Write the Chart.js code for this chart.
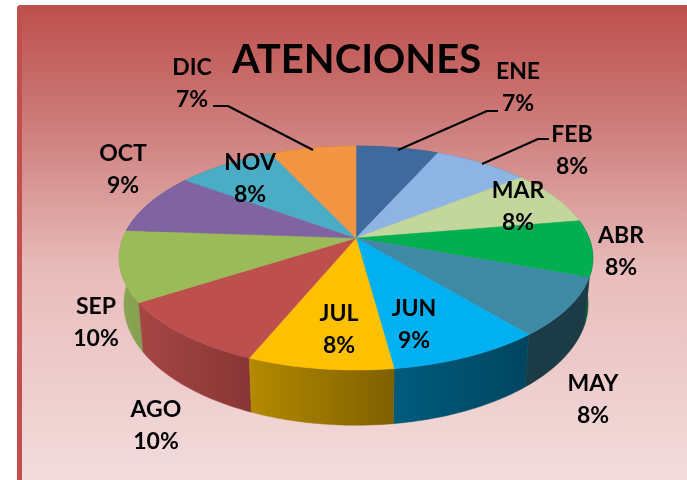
<!DOCTYPE html>
<html><head><meta charset="utf-8">
<style>html,body{margin:0;padding:0;background:#fff;overflow:hidden}canvas{display:block}</style>
<script src="https://cdn.jsdelivr.net/npm/chart.js@4"></script>
</head><body>
<canvas id="c" width="687" height="480"></canvas>
<script>
const months = ['ENE','FEB','MAR','ABR','MAY','JUN','JUL','AGO','SEP','OCT','NOV','DIC'];
const shares = [6.7,7.7,8.0,8.2,8.4,8.9,8.4,9.7,10.2,8.9,8.0,7.0];
const topColors = ['#3f6a9e','#8eb4e3','#c3d69b','#00b050','#3e8aa5','#00b0f0','#ffc000','#bd4f4c','#9bbb59','#8064a2','#4bacc6','#f49544'];
const sideLeft  = ['#2a4a70','#5f7ea3','#8a9a6c','#006b30','#1b3b46','#005c7e','#b48a00','#a64644','#8aa653','#5a4674','#33788c','#b06a30'];
const sideRight = ['#2a4a70','#5f7ea3','#8a9a6c','#005a28','#1b3b46','#00455f','#7f6000','#873635','#85a04f','#5a4674','#33788c','#b06a30'];

const geom = {cx:356, cy:238, rx:233, ry:108.4, k:0.179, shrink:0.98, d0:44, d1:0.085};
const labelAt = [[518,72],[572,135],[518,191],[621,236],[593,384],[414,309],[339,314],[156,410],[96,307],[123,154],[250,163],[192,68]];
const leaders = [[[398,150],[487,111],[498,111]],[[482,164],[538,139],[549,139]],[[213,106],[228,106],[313,150]]];

function topPt(t){const u=Math.cos(t),v=Math.sin(t),w=1-geom.k*v;
  return [geom.cx+geom.rx*u/w, geom.cy+geom.ry*v/w];}
function botPt(t){const p=topPt(t);
  return [geom.cx+(p[0]-geom.cx)*geom.shrink, p[1]+geom.d0+geom.d1*(p[1]-geom.cy)];}

const perspectivePie = {
  id:'perspectivePie',
  beforeDraw(chart){
    const c=chart.ctx,w=chart.width,h=chart.height;
    c.save();
    c.fillStyle='#fff';c.fillRect(0,0,w,h);
    const g=c.createLinearGradient(0,5,0,480);
    g.addColorStop(0,'#bd4f4c');g.addColorStop(0.24,'#cc7a78');g.addColorStop(0.56,'#e8bcbb');g.addColorStop(1,'#f3dcdc');
    c.fillStyle=g;
    c.beginPath();c.roundRect(17,5,670,475,[4,0,0,0]);c.fill();
    c.fillStyle='#c0504d';
    c.beginPath();c.roundRect(17,5,5,475,[4,0,0,0]);c.fill();
    c.restore();
  },
  beforeDatasetsDraw(chart){
    const c=chart.ctx,arcs=chart.getDatasetMeta(0).data;
    c.save();
    const order=arcs.map((a,i)=>i).sort((a,b)=>Math.sin((arcs[a].startAngle+arcs[a].endAngle)/2)-Math.sin((arcs[b].startAngle+arcs[b].endAngle)/2));
    order.forEach(i=>{
      const a=arcs[i],n=40,top=[],bot=[];
      for(let s=0;s<=n;s++){const t=a.startAngle+(a.endAngle-a.startAngle)*s/n;top.push(topPt(t));bot.push(botPt(t));}
      const xs=top.concat(bot).map(p=>p[0]);
      const g=c.createLinearGradient(Math.min(...xs),0,Math.max(...xs),0);
      g.addColorStop(0,sideLeft[i]);g.addColorStop(1,sideRight[i]);
      c.fillStyle=g;c.strokeStyle=g;c.lineWidth=0.5;
      c.beginPath();
      top.forEach((p,j)=>j?c.lineTo(p[0],p[1]):c.moveTo(p[0],p[1]));
      bot.reverse().forEach(p=>c.lineTo(p[0],p[1]));
      c.closePath();c.fill();c.stroke();
    });
    arcs.forEach((a,i)=>{
      const n=40;
      c.fillStyle=topColors[i];c.strokeStyle=topColors[i];c.lineWidth=0.5;
      c.beginPath();c.moveTo(geom.cx,geom.cy);
      for(let s=0;s<=n;s++){const p=topPt(a.startAngle+(a.endAngle-a.startAngle)*s/n);c.lineTo(p[0],p[1]);}
      c.closePath();c.fill();c.stroke();
    });
    c.restore();
    return false;
  },
  afterDraw(chart){
    const c=chart.ctx,vals=chart.data.datasets[0].data,total=vals.reduce((a,b)=>a+b,0);
    c.save();
    c.strokeStyle='#000';c.lineWidth=2;c.lineJoin='round';
    leaders.forEach(l=>{c.beginPath();l.forEach((p,j)=>j?c.lineTo(p[0],p[1]):c.moveTo(p[0],p[1]));c.stroke();});
    c.fillStyle='#000';c.font='bold 23px Lato';c.textAlign='center';c.textBaseline='middle';
    chart.data.labels.forEach((m,i)=>{
      const [x,y]=labelAt[i];
      c.fillText(m,x,y);
      c.fillText(Math.round(vals[i]/total*100)+'%',x,y+32);
    });
    c.restore();
  }
};

new Chart(document.getElementById('c'),{
  type:'pie',
  data:{labels:months,datasets:[{data:shares,backgroundColor:topColors,borderWidth:0}]},
  plugins:[perspectivePie],
  options:{
    responsive:false,animation:false,
    layout:{padding:{left:26}},
    plugins:{
      legend:{display:false},tooltip:{enabled:false},
      title:{display:true,text:'ATENCIONES',color:'#000',font:{family:'Lato',size:40,weight:'bold'},padding:{top:36,bottom:10}}
    }
  }
});
</script>
</body></html>
